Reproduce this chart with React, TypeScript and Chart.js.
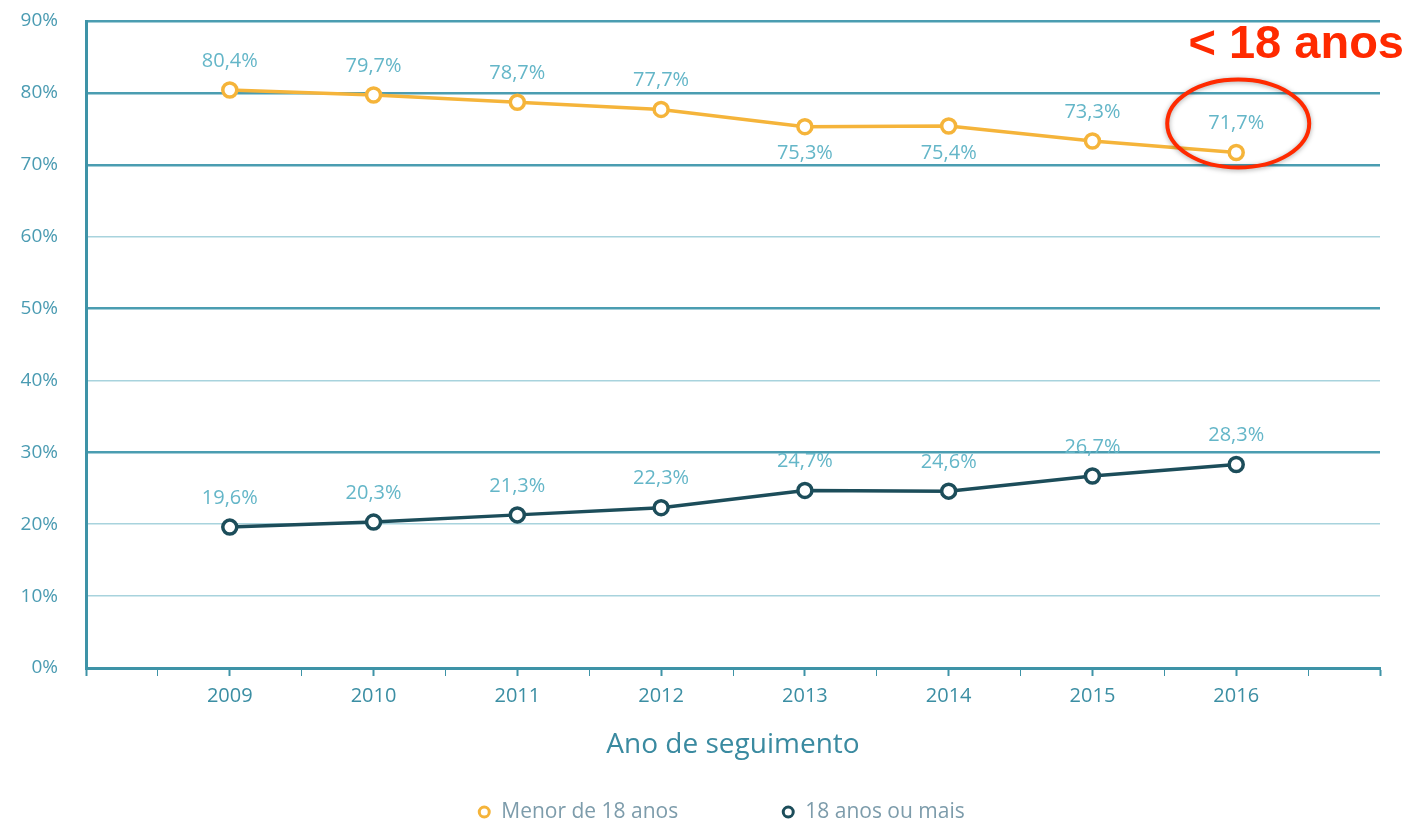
import React, { useEffect, useRef } from "react";
import { Chart, registerables } from "chart.js";

Chart.register(...registerables);

const years = [2009, 2010, 2011, 2012, 2013, 2014, 2015, 2016];
const menor18 = [80.4, 79.7, 78.7, 77.7, 75.3, 75.4, 73.3, 71.7];
const maior18 = [19.6, 20.3, 21.3, 22.3, 24.7, 24.6, 26.7, 28.3];
const menor18LabelPos = ["above", "above", "above", "above", "below", "below", "above", "above"];
const maior18LabelPos = ["above", "above", "above", "above", "above", "above", "above", "above"];
const seriesNames = ["Menor de 18 anos", "18 anos ou mais"];
const yTicks = [0, 10, 20, 30, 40, 50, 60, 70, 80, 90];
const strongGrid = [30, 50, 70, 80, 90];
const xTitle = "Ano de seguimento";
const annotationText = "< 18 anos";

const ORANGE = "#f5b43a";
const DARK = "#1c4d5a";
const TEAL = "#3e93a7";
const LIGHT_TEAL = "#a8d3dd";
const LABEL = "#64b6c8";
const FONT = "'Open Sans', sans-serif";

const fmt = (v: number) => v.toFixed(1).replace(".", ",") + "%";

const extrasPlugin = {
  id: "extras",
  afterDatasetsDraw(chart: any) {
    const ctx = chart.ctx;
    ctx.save();
    // data labels
    const positions = [menor18LabelPos, maior18LabelPos];
    ctx.font = `20px ${FONT}`;
    ctx.fillStyle = LABEL;
    ctx.textAlign = "center";
    ctx.textBaseline = "middle";
    chart.data.datasets.forEach((ds: any, di: number) => {
      const meta = chart.getDatasetMeta(di);
      meta.data.forEach((pt: any, i: number) => {
        const v = ds.data[i].y;
        const pos = positions[di][i];
        const y = pos === "above" ? pt.y - 29 : pt.y + 27;
        ctx.fillText(fmt(v), pt.x, y);
      });
    });

    // annotation around last point of first series
    const meta0 = chart.getDatasetMeta(0);
    const last = meta0.data[meta0.data.length - 1];
    ctx.shadowColor = "rgba(0,0,0,0.35)";
    ctx.shadowBlur = 5;
    ctx.shadowOffsetY = 1;
    ctx.strokeStyle = "#ff2a00";
    ctx.lineWidth = 4;
    ctx.beginPath();
    ctx.ellipse(last.x + 2, last.y - 29, 71, 44, 0, 0, Math.PI * 2);
    ctx.stroke();
    ctx.shadowColor = "transparent";
    ctx.shadowBlur = 0;
    ctx.shadowOffsetY = 0;
    ctx.fillStyle = "#ff2a00";
    ctx.font = `bold 47px 'Liberation Sans', Arial, sans-serif`;
    ctx.textAlign = "right";
    ctx.textBaseline = "alphabetic";
    ctx.fillText(annotationText, chart.width - 4, 58);

    // legend
    const items = chart.data.datasets.map((ds: any) => ({ text: ds.label, color: ds.borderColor }));
    ctx.font = `21px ${FONT}`;
    ctx.textAlign = "left";
    ctx.textBaseline = "middle";
    const markerW = 22;
    const gap = 105;
    const widths = items.map((it: any) => markerW + ctx.measureText(it.text).width);
    const total = widths.reduce((a: number, b: number) => a + b, 0) + gap * (items.length - 1);
    let x = (chart.chartArea.left + chart.chartArea.right) / 2 - 11 - total / 2;
    const ly = chart.height - 9;
    items.forEach((it: any, i: number) => {
      ctx.beginPath();
      ctx.arc(x + 5, ly, 5, 0, Math.PI * 2);
      ctx.fillStyle = "#fff";
      ctx.fill();
      ctx.lineWidth = 3;
      ctx.strokeStyle = it.color;
      ctx.stroke();
      ctx.fillStyle = "#7d9cab";
      ctx.fillText(it.text, x + markerW, ly);
      x += widths[i] + gap;
    });
    ctx.restore();
  },
};

export default function App() {
  const ref = useRef<HTMLCanvasElement | null>(null);
  useEffect(() => {
    if (!ref.current) return;
    const chart = new Chart(ref.current, {
      type: "line",
      data: {
        datasets: [
          {
            label: seriesNames[0],
            data: years.map((y, i) => ({ x: y, y: menor18[i] })),
            borderColor: ORANGE,
            backgroundColor: "#ffffff",
            borderWidth: 3.5,
            pointRadius: 7,
            pointBorderWidth: 3.5,
            pointBackgroundColor: "#ffffff",
            pointBorderColor: ORANGE,
            tension: 0,
          },
          {
            label: seriesNames[1],
            data: years.map((y, i) => ({ x: y, y: maior18[i] })),
            borderColor: DARK,
            backgroundColor: "#ffffff",
            borderWidth: 3.5,
            pointRadius: 7,
            pointBorderWidth: 3.5,
            pointBackgroundColor: "#ffffff",
            pointBorderColor: DARK,
            tension: 0,
          },
        ],
      },
      options: {
        animation: false,
        responsive: false,
        maintainAspectRatio: false,
        layout: { padding: { top: 21, right: 28, bottom: 59, left: 0 } },
        plugins: { legend: { display: false }, tooltip: { enabled: false } },
        scales: {
          x: {
            type: "linear",
            min: years[0] - 1,
            max: years[years.length - 1] + 1,
            afterFit: (s: any) => {
              s.height = 94;
              s.paddingLeft = 0;
              s.paddingRight = 0;
              s.paddingTop = 0;
              s.paddingBottom = 0;
            },
            afterBuildTicks: (s: any) => {
              const t = [];
              for (let v = years[0] - 1; v <= years[years.length - 1] + 1 + 1e-9; v += 0.5) t.push({ value: v });
              s.ticks = t;
            },
            ticks: {
              autoSkip: false,
              maxRotation: 0,
              padding: 8,
              color: "#3b8ea3",
              font: { family: FONT, size: 20 },
              callback: (v: any) => (Number.isInteger(v) && years.includes(v) ? String(v) : ""),
            },
            grid: {
              display: true,
              drawOnChartArea: false,
              drawTicks: true,
              tickLength: 8,
              tickColor: TEAL,
              tickWidth: (c: any) => (c.tick && Number.isInteger(c.tick.value) ? 2 : 1),
            },
            border: { display: true, color: TEAL, width: 3 },
            title: {
              display: true,
              text: xTitle,
              color: "#3a8aa0",
              font: { family: FONT, size: 28 },
              padding: { top: 0, bottom: 0 },
            },
          },
          y: {
            min: 0,
            max: 90,
            afterFit: (s: any) => {
              s.width = 86;
              s.paddingTop = 0;
              s.paddingBottom = 0;
              s.paddingLeft = 0;
              s.paddingRight = 0;
            },
            afterBuildTicks: (s: any) => { s.ticks = yTicks.map((v) => ({ value: v })); },
            ticks: {
              padding: 28,
              color: "#4a9bb2",
              font: { family: FONT, size: 19 },
              callback: (v: any) => v + "%",
            },
            grid: {
              drawTicks: false,
              color: (c: any) => (c.tick && strongGrid.includes(c.tick.value) ? "#4b9db1" : LIGHT_TEAL),
              lineWidth: (c: any) => (c.tick && strongGrid.includes(c.tick.value) ? 2.5 : 1.5),
            },
            border: { display: true, color: TEAL, width: 3 },
          },
        },
      } as any,
      plugins: [extrasPlugin],
    });
    return () => chart.destroy();
  }, []);
  return (
    <div style={{ position: "fixed", left: 0, top: 0, width: 1408, height: 821, background: "#fff" }}>
      <canvas ref={ref} width={1408} height={821} style={{ width: 1408, height: 821 }} />
    </div>
  );
}
